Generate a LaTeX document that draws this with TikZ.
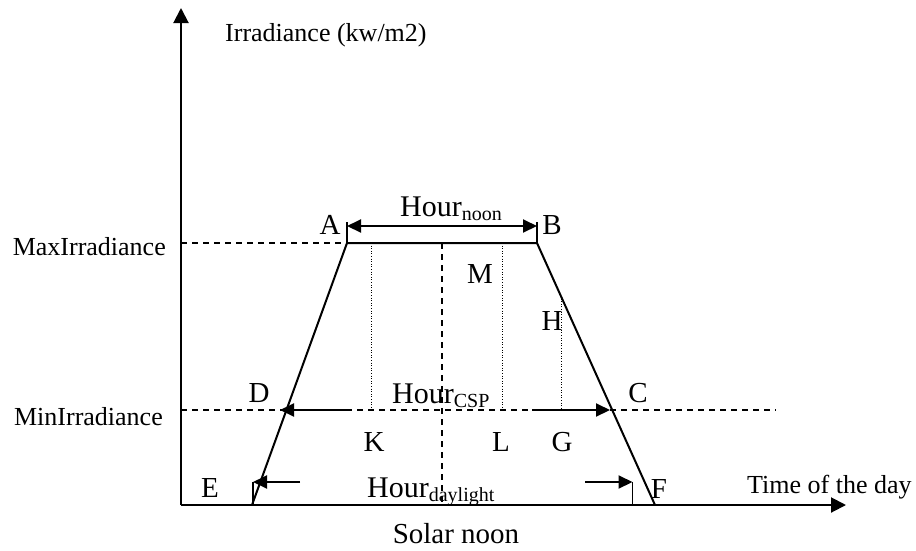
\documentclass[tikz,border=0pt]{standalone}
\usepackage{fontspec}
\setmainfont{Liberation Serif}
\usetikzlibrary{arrows.meta}
\begin{document}
\begin{tikzpicture}[x=1pt,y=-1pt,
  axis/.style={line width=2pt,-{Triangle[length=15pt,width=15pt]}},
  edge/.style={line width=2pt},
  guide/.style={line width=1.6pt,dash pattern=on 6pt off 5pt},
  dotline/.style={line width=1pt,dash pattern=on 1pt off 1.6pt},
  dimarrow/.style={line width=2pt,-{Triangle[length=14pt,width=13pt]}},
  dimtick/.style={line width=1.5pt},
  txt/.style={inner sep=0pt,font=\fontsize{26}{29}\selectfont},
  lbl/.style={inner sep=0pt,font=\fontsize{29}{32}\selectfont},
  hr/.style={inner sep=0pt,font=\fontsize{30}{34}\selectfont}]
\newcommand{\sbs}[1]{\raisebox{-4pt}{\fontsize{20}{22}\selectfont #1}}
\useasboundingbox (0,0) rectangle (916,550);

% key points
\coordinate (O) at (181,505);
\coordinate (ytip) at (181,8);
\coordinate (xtip) at (846,505);
\coordinate (E) at (252,505);
\coordinate (A) at (347,243);
\coordinate (B) at (537,243);
\coordinate (F) at (655,505);
\coordinate (maxL) at (181,243);
\coordinate (maxR) at (395,243);
\coordinate (minL) at (181,410);
\coordinate (minR) at (776,410);
\coordinate (noonT) at (442,243);
\coordinate (noonB) at (442,505);
\coordinate (Kt) at (371,243);
\coordinate (Kb) at (371,410);
\coordinate (Lt) at (502,243);
\coordinate (Lb) at (502,410);
\coordinate (Gt) at (561,296);
\coordinate (Gb) at (561,410);
\coordinate (Dx) at (280,410);
\coordinate (Cx) at (610,410);
\coordinate (csp1) at (349,410);
\coordinate (csp2) at (532,410);
\coordinate (At) at (347,222);
\coordinate (Bt) at (537,222);
\coordinate (An) at (347,226);
\coordinate (Bn) at (537,226);
\coordinate (Et) at (253,482);
\coordinate (Eb) at (253,505);
\coordinate (Ft) at (632.5,482);
\coordinate (Fb) at (632.5,505);
\coordinate (dl1) at (300,482);
\coordinate (dl2) at (585,482);

% guides
\draw[guide] (maxL) -- (maxR);
\draw[guide] (minL) -- (minR);
\draw[guide] (noonT) -- (noonB);
\draw[dotline] (Kt) -- (Kb);
\draw[dotline] (Lt) -- (Lb);
\draw[dotline] (Gt) -- (Gb);

% axes
\draw[axis] (O) -- (ytip);
\draw[axis] (O) -- (xtip);

% trapezoid
\draw[edge] (E) -- (A) -- (B) -- (F);

% Hour_noon
\draw[dimtick] (A) -- (At);
\draw[dimtick] (B) -- (Bt);
\draw[line width=2pt,{Triangle[length=14pt,width=13pt]}-{Triangle[length=14pt,width=13pt]}] (An) -- (Bn);

% Hour_CSP
\draw[dimarrow] (csp1) -- (Dx);
\draw[dimarrow] (csp2) -- (Cx);

% Hour_daylight
\draw[dimtick] (Eb) -- (Et);
\draw[dimtick] (Fb) -- (Ft);
\draw[dimarrow] (dl1) -- (Et);
\draw[dimarrow] (dl2) -- (Ft);

% texts
\node[txt,anchor=base west] (ylab) at (225,41) {Irradiance (kw/m2)};
\node[txt,anchor=base east] (maxlab) at (166,255) {MaxIrradiance};
\node[txt,anchor=base east] (minlab) at (163,425) {MinIrradiance};
\node[txt,anchor=base west] (xlab) at (747,493) {Time of the day};
\node[lbl,anchor=base] (snoon) at (456,543) {Solar noon};

\node[hr,anchor=base west] (hnoon) at (400,216) {Hour\sbs{noon}};
\node[hr,anchor=base west] (hcsp) at (392,403) {Hour\sbs{CSP}};
\node[hr,anchor=base west] (hday) at (367,497) {Hour\sbs{daylight}};

\node[lbl,anchor=base] (lA) at (330,234) {A};
\node[lbl,anchor=base] (lB) at (552,234) {B};
\node[lbl,anchor=base] (lM) at (480,283) {M};
\node[lbl,anchor=base] (lH) at (552,330) {H};
\node[lbl,anchor=base] (lD) at (259,402) {D};
\node[lbl,anchor=base] (lC) at (638,402) {C};
\node[lbl,anchor=base] (lK) at (374,451) {K};
\node[lbl,anchor=base] (lL) at (501,451) {L};
\node[lbl,anchor=base] (lG) at (562,451) {G};
\node[lbl,anchor=base] (lE) at (210,497) {E};
\node[lbl,anchor=base] (lF) at (659,498) {F};
\end{tikzpicture}
\end{document}
